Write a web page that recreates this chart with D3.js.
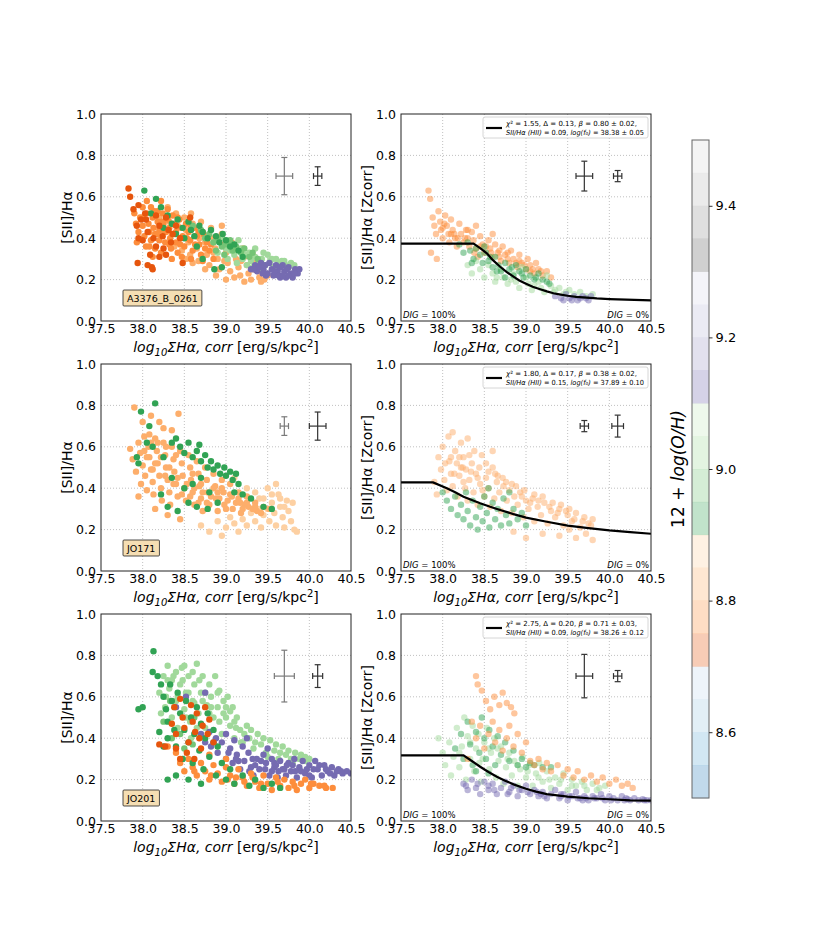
<!DOCTYPE html>
<html>
<head>
<meta charset="utf-8">
<script src="https://cdn.jsdelivr.net/npm/d3@7"></script>
<style>
  body { margin: 0; background: #fff; }
  text { font-family: "DejaVu Sans", sans-serif; }
</style>
</head>
<body>
<div id="chart"></div>
<script>
// ---- axes / colorbar ----
const xTicks = [37.5, 38.0, 38.5, 39.0, 39.5, 40.0, 40.5];
const yTicks = [0.0, 0.2, 0.4, 0.6, 0.8, 1.0];
const cbTicks = [8.6, 8.8, 9.0, 9.2, 9.4];
const cbEdges = [8.5, 9.5];
// tab20c, one colour per 0.05 dex of 12+log(O/H)
const cbColors = [
  "#3182bd", "#6baed6", "#9ecae1", "#c6dbef",
  "#e6550d", "#fd8d3c", "#fdae6b", "#fdd0a2",
  "#31a354", "#74c476", "#a1d99b", "#c7e9c0",
  "#756bb1", "#9e9ac8", "#bcbddc", "#dadaeb",
  "#636363", "#969696", "#bdbdbd", "#d9d9d9",
];
const galaxyNames = ["A3376_B_0261", "JO171", "JO201"];

// ---- spaxels: "logSigmaHa,SII/Ha ..." ----
// A3376_B_0261, observed
const a3376_lightOrange = `38.20,0.50 38.25,0.44 38.30,0.55 38.32,0.48 38.35,0.42 38.38,0.36 38.40,0.52 38.42,0.46 38.45,0.40 38.47,0.34 38.50,0.50 38.52,0.44 38.55,0.38 38.57,0.32 38.58,0.52 38.60,0.47 38.63,0.41 38.65,0.35 38.67,0.29 38.70,0.48 38.72,0.43 38.75,0.38 38.77,0.32 38.80,0.27 38.82,0.45 38.85,0.40 38.87,0.35 38.90,0.30 38.92,0.25 38.95,0.42 38.97,0.37 39.00,0.33 39.02,0.28 39.05,0.24 39.07,0.38 39.10,0.34 39.12,0.30 39.15,0.26 39.17,0.22 39.20,0.35 39.22,0.31 39.25,0.27 39.27,0.23 39.30,0.20 39.32,0.32 39.35,0.28 39.38,0.24 39.40,0.21 39.42,0.19 39.46,0.20 39.50,0.22 38.95,0.46 38.60,0.28 38.75,0.25 39.10,0.21 38.85,0.33 38.98,0.29 39.18,0.29 39.33,0.25 38.68,0.40 38.52,0.30 38.88,0.22 39.00,0.20 39.22,0.19`;
const a3376_orange = `37.90,0.52 37.92,0.47 37.95,0.43 37.97,0.50 38.00,0.55 38.00,0.46 38.02,0.41 38.04,0.36 38.05,0.52 38.07,0.47 38.08,0.43 38.10,0.39 38.10,0.55 38.12,0.50 38.13,0.45 38.15,0.42 38.15,0.35 38.18,0.53 38.18,0.48 38.20,0.44 38.20,0.39 38.22,0.33 38.24,0.52 38.25,0.47 38.26,0.43 38.27,0.38 38.30,0.54 38.30,0.49 38.32,0.45 38.33,0.40 38.34,0.35 38.36,0.51 38.38,0.47 38.40,0.43 38.40,0.38 38.42,0.33 38.44,0.49 38.46,0.45 38.48,0.41 38.50,0.36 38.52,0.47 38.55,0.43 38.57,0.39 38.60,0.34 38.62,0.45 38.65,0.41 38.68,0.37 38.70,0.32 38.73,0.42 38.77,0.38 38.80,0.34 38.85,0.30 38.58,0.30 38.47,0.31 38.35,0.30 38.12,0.31 38.05,0.58 38.22,0.58 37.93,0.38 38.00,0.50 38.08,0.36 38.14,0.53 38.18,0.42 38.23,0.48 38.28,0.43 38.32,0.37 38.38,0.42 38.42,0.50 38.45,0.37 38.53,0.40 38.58,0.46 38.63,0.37 38.67,0.43 38.75,0.35 38.82,0.37 38.72,0.29`;
const a3376_darkOrange = `37.83,0.64 37.85,0.60 37.89,0.54 37.95,0.56 37.93,0.46 37.98,0.49 37.95,0.40 37.94,0.28 38.06,0.27 38.11,0.26 38.12,0.25 38.09,0.32 38.16,0.51 38.20,0.46 38.28,0.50 38.28,0.32 38.36,0.42 38.48,0.28 38.57,0.50 38.00,0.39 38.06,0.43 38.16,0.36 38.24,0.41 38.34,0.38 38.04,0.49 38.40,0.46 38.20,0.31 38.03,0.52 38.13,0.40 38.31,0.44 38.45,0.40 38.25,0.35`;
const a3376_lightGreen = `38.85,0.38 38.90,0.33 38.95,0.40 39.00,0.35 39.02,0.30 39.08,0.37 39.10,0.32 39.13,0.28 39.18,0.35 39.20,0.30 39.25,0.27 39.28,0.33 39.30,0.29 39.35,0.31 39.38,0.27 39.40,0.25 39.43,0.30 39.47,0.27 39.50,0.32 39.53,0.29 39.57,0.26 39.60,0.30 39.63,0.28 39.67,0.29 39.72,0.27 39.78,0.28 39.82,0.27 39.45,0.33 39.15,0.39 39.35,0.35 39.05,0.34 39.23,0.32 39.42,0.28 39.55,0.30 39.70,0.29 39.75,0.26 39.60,0.25 39.32,0.26`;
const a3376_midGreen = `38.60,0.46 38.70,0.44 38.75,0.40 38.80,0.42 38.85,0.38 38.90,0.40 38.95,0.36 39.00,0.37 39.05,0.39 39.08,0.34 39.12,0.36 39.18,0.33 39.22,0.35 39.28,0.31 39.32,0.33 39.38,0.30 38.88,0.34 38.98,0.32`;
const a3376_green = `38.02,0.63 38.16,0.59 38.10,0.52 38.22,0.55 38.30,0.51 38.35,0.47 38.42,0.49 38.48,0.45 38.55,0.48 38.58,0.44 38.62,0.41 38.68,0.46 38.72,0.43 38.78,0.40 38.82,0.44 38.88,0.41 38.92,0.38 38.96,0.42 39.00,0.39 39.05,0.36 39.10,0.37 39.15,0.34 38.86,0.25 38.95,0.26 38.72,0.30 38.50,0.40 38.40,0.42 38.65,0.36 39.20,0.31 38.25,0.45`;
const a3376_purple = `39.30,0.25 39.35,0.27 39.37,0.24 39.42,0.28 39.45,0.25 39.48,0.22 39.52,0.28 39.55,0.25 39.57,0.22 39.60,0.27 39.62,0.24 39.65,0.21 39.68,0.27 39.70,0.24 39.72,0.21 39.75,0.26 39.78,0.23 39.80,0.21 39.83,0.25 39.86,0.23 39.88,0.25 39.50,0.23 39.65,0.26 39.75,0.22 39.40,0.26 39.33,0.25 39.44,0.23 39.58,0.24 39.63,0.22 39.73,0.25 39.82,0.23 39.68,0.22 39.47,0.27`;
// A3376_B_0261, metallicity corrected
const a3376z_orange = `37.83,0.63 37.85,0.59 37.88,0.50 37.90,0.46 37.92,0.42 37.95,0.53 37.97,0.48 37.98,0.44 38.00,0.40 38.03,0.51 38.05,0.46 38.07,0.42 38.08,0.38 38.10,0.49 38.12,0.44 38.15,0.40 38.17,0.36 38.20,0.47 38.22,0.42 38.25,0.38 38.28,0.44 38.30,0.40 38.32,0.36 38.35,0.43 38.37,0.39 38.40,0.35 38.42,0.31 38.45,0.41 38.48,0.37 38.50,0.33 38.55,0.39 38.57,0.35 38.60,0.31 38.63,0.37 38.66,0.33 38.70,0.29 38.72,0.36 38.75,0.32 38.80,0.28 38.82,0.34 38.85,0.30 38.90,0.26 38.92,0.32 38.95,0.28 39.00,0.25 39.02,0.30 39.05,0.27 39.10,0.23 39.12,0.28 39.15,0.25 39.20,0.22 39.25,0.24 39.30,0.21 37.86,0.33 37.93,0.30 38.40,0.46 38.60,0.42 38.02,0.47 38.14,0.42 38.27,0.40 38.38,0.33 38.52,0.36 38.68,0.34 38.78,0.30 38.88,0.28 38.98,0.27 39.08,0.25 38.00,0.45 38.10,0.42 38.18,0.40 38.30,0.44 38.45,0.36 38.58,0.33 38.68,0.31 38.78,0.33 38.92,0.29 39.05,0.24 39.18,0.24`;
const a3376z_green = `38.20,0.37 38.25,0.33 38.30,0.38 38.33,0.34 38.37,0.30 38.40,0.35 38.45,0.32 38.48,0.28 38.52,0.33 38.55,0.29 38.60,0.26 38.63,0.31 38.67,0.27 38.70,0.24 38.75,0.28 38.80,0.25 38.85,0.22 38.88,0.27 38.92,0.24 38.97,0.21 39.00,0.25 39.05,0.22 39.10,0.20 39.15,0.23 39.20,0.20 39.28,0.18 38.50,0.36 38.75,0.21 38.35,0.28 38.57,0.31 38.65,0.24 38.83,0.26 38.95,0.23 39.12,0.21 39.25,0.19`;
const a3376z_lightGreen = `38.30,0.27 38.35,0.23 38.40,0.29 38.45,0.25 38.50,0.21 38.55,0.27 38.60,0.23 38.63,0.19 38.70,0.25 38.73,0.21 38.78,0.18 38.85,0.23 38.88,0.19 38.92,0.16 39.00,0.21 39.03,0.18 39.07,0.15 39.15,0.19 39.18,0.16 39.22,0.14 39.30,0.17 39.33,0.14 39.40,0.16 39.45,0.13 39.52,0.15 39.58,0.13 39.65,0.14 39.72,0.12 39.80,0.13 38.95,0.26 39.25,0.22 38.65,0.21 38.82,0.20 39.10,0.17 39.35,0.15 39.48,0.14`;
const a3376z_purple = `39.35,0.12 39.42,0.11 39.48,0.13 39.52,0.11 39.58,0.12 39.62,0.10 39.68,0.12 39.72,0.11 39.78,0.12 39.45,0.10 39.55,0.10 39.65,0.11 39.75,0.10`;
// JO171, observed
const jo171_lightOrange = `37.85,0.59 37.88,0.54 37.90,0.79 37.92,0.48 37.95,0.62 37.97,0.57 37.98,0.42 38.00,0.51 38.02,0.65 38.03,0.46 38.05,0.39 38.07,0.60 38.08,0.55 38.10,0.75 38.10,0.49 38.12,0.43 38.13,0.37 38.15,0.64 38.17,0.58 38.18,0.52 38.20,0.46 38.22,0.40 38.23,0.34 38.25,0.69 38.25,0.62 38.27,0.56 38.28,0.50 38.30,0.44 38.32,0.38 38.33,0.32 38.35,0.60 38.37,0.54 38.38,0.48 38.40,0.42 38.42,0.36 38.43,0.76 38.45,0.58 38.47,0.52 38.48,0.46 38.50,0.40 38.52,0.34 38.55,0.56 38.57,0.50 38.58,0.44 38.60,0.38 38.62,0.32 38.65,0.53 38.67,0.47 38.68,0.41 38.70,0.35 38.72,0.29 38.75,0.50 38.77,0.44 38.78,0.38 38.80,0.32 38.85,0.47 38.87,0.41 38.88,0.35 38.90,0.29 38.95,0.44 38.97,0.38 38.98,0.32 39.05,0.42 39.07,0.36 39.08,0.30 39.15,0.38 39.17,0.33 39.18,0.28 39.25,0.36 39.27,0.31 39.35,0.33 39.37,0.29 39.45,0.31 39.52,0.30 38.00,0.72 38.20,0.72 38.35,0.68 37.95,0.36 38.15,0.30 38.30,0.27 38.45,0.25 38.05,0.55 38.12,0.49 38.22,0.55 38.32,0.50 38.42,0.45 38.53,0.42 38.62,0.40 38.72,0.38 38.82,0.36 38.92,0.35 39.02,0.34 39.12,0.33 39.22,0.32 39.32,0.30 39.42,0.28 38.08,0.66 38.18,0.62 38.28,0.60 38.40,0.56 38.02,0.58 38.10,0.62 38.15,0.52 38.27,0.46 38.37,0.42 38.47,0.37 38.57,0.36 38.67,0.33 38.77,0.33 38.85,0.40 38.95,0.40 39.05,0.37 39.15,0.35 39.25,0.33 39.35,0.31 38.60,0.47 38.70,0.42 38.90,0.38 39.00,0.30 39.20,0.30`;
const jo171_paleOrange = `38.70,0.22 38.80,0.19 38.90,0.24 38.95,0.17 39.00,0.21 39.05,0.26 39.10,0.23 39.15,0.19 39.20,0.25 39.25,0.22 39.30,0.28 39.35,0.24 39.40,0.35 39.42,0.21 39.45,0.27 39.50,0.40 39.52,0.24 39.55,0.33 39.58,0.28 39.60,0.22 39.63,0.37 39.65,0.31 39.68,0.26 39.70,0.21 39.73,0.34 39.75,0.29 39.78,0.24 39.80,0.33 39.82,0.20 39.85,0.19 39.25,0.40 39.35,0.38 39.60,0.42 39.10,0.45 39.45,0.35 39.55,0.37 39.65,0.35 39.70,0.31 39.50,0.30 39.40,0.30`;
const jo171_green = `38.15,0.81 38.08,0.70 37.98,0.77 37.93,0.55 37.95,0.52 38.05,0.62 38.12,0.60 38.25,0.55 38.35,0.62 38.40,0.64 38.45,0.60 38.50,0.57 38.55,0.62 38.60,0.55 38.65,0.58 38.68,0.61 38.70,0.53 38.75,0.56 38.78,0.50 38.82,0.53 38.85,0.49 38.90,0.51 38.93,0.47 38.98,0.50 39.00,0.46 39.05,0.48 39.08,0.44 39.12,0.47 39.15,0.42 39.10,0.38 39.20,0.37 39.30,0.35 39.45,0.31 39.55,0.30 38.30,0.31 38.42,0.29 38.55,0.33 38.65,0.31 38.78,0.30 38.90,0.33 38.22,0.37 38.35,0.45 38.50,0.40 38.60,0.42 38.70,0.45 38.80,0.38`;
// JO171, metallicity corrected
const jo171z_orange = `37.90,0.43 37.93,0.37 37.95,0.55 37.98,0.49 38.00,0.60 38.02,0.44 38.05,0.39 38.07,0.65 38.08,0.53 38.10,0.47 38.12,0.41 38.15,0.58 38.17,0.52 38.18,0.36 38.20,0.46 38.22,0.62 38.25,0.55 38.27,0.40 38.28,0.49 38.30,0.34 38.32,0.44 38.35,0.52 38.37,0.38 38.40,0.47 38.42,0.32 38.45,0.42 38.47,0.56 38.50,0.36 38.52,0.45 38.55,0.40 38.57,0.31 38.60,0.50 38.62,0.35 38.65,0.43 38.68,0.38 38.70,0.29 38.73,0.41 38.77,0.34 38.80,0.39 38.83,0.28 38.86,0.36 38.90,0.32 38.93,0.38 38.97,0.26 39.00,0.34 39.03,0.30 39.08,0.35 39.10,0.24 39.14,0.31 39.18,0.27 39.22,0.33 39.26,0.23 39.30,0.29 39.35,0.26 39.40,0.30 39.45,0.22 39.50,0.27 39.55,0.24 39.60,0.28 39.65,0.21 39.70,0.26 39.75,0.23 39.80,0.25 39.00,0.16 39.20,0.18 39.40,0.17 39.60,0.16 39.80,0.15 38.85,0.19 38.30,0.64 38.60,0.58 38.12,0.67 38.03,0.52 38.14,0.47 38.24,0.50 38.34,0.48 38.44,0.50 38.55,0.48 38.66,0.46 38.76,0.43 38.88,0.41 38.98,0.39 39.10,0.37 39.20,0.36 39.32,0.33 39.42,0.32 39.52,0.30 38.20,0.55 38.38,0.58 38.25,0.43 38.48,0.39 38.10,0.55 38.22,0.50 38.32,0.56 38.42,0.45 38.52,0.52 38.63,0.47 38.72,0.45 38.83,0.42 38.95,0.36 39.05,0.33 39.15,0.34 39.28,0.31 39.38,0.28 39.48,0.29 39.58,0.25 39.68,0.24 39.78,0.22 39.52,0.20 39.72,0.18`;
const jo171z_green = `38.00,0.38 38.05,0.34 38.10,0.30 38.15,0.36 38.18,0.27 38.22,0.32 38.25,0.25 38.28,0.38 38.30,0.29 38.33,0.22 38.36,0.34 38.40,0.26 38.42,0.20 38.45,0.31 38.48,0.24 38.50,0.36 38.53,0.28 38.56,0.21 38.60,0.33 38.63,0.25 38.66,0.30 38.70,0.22 38.73,0.35 38.76,0.27 38.80,0.23 38.85,0.30 38.90,0.25 38.95,0.28 39.00,0.22 38.55,0.40 38.80,0.38`;
// JO201, observed
const jo201_lightGreen = `38.20,0.62 38.25,0.70 38.27,0.55 38.30,0.75 38.32,0.64 38.35,0.50 38.37,0.70 38.40,0.58 38.42,0.45 38.45,0.66 38.47,0.74 38.50,0.54 38.52,0.62 38.55,0.70 38.57,0.48 38.60,0.58 38.62,0.66 38.65,0.76 38.67,0.52 38.70,0.62 38.72,0.70 38.75,0.45 38.77,0.56 38.80,0.66 38.82,0.60 38.85,0.50 38.87,0.70 38.90,0.55 38.92,0.63 38.95,0.42 38.97,0.58 39.00,0.50 39.02,0.60 39.05,0.46 39.08,0.55 39.10,0.40 39.13,0.50 39.17,0.44 39.20,0.38 39.25,0.46 39.28,0.40 39.33,0.35 39.38,0.42 39.42,0.37 39.48,0.33 39.53,0.39 39.58,0.34 39.63,0.30 39.68,0.36 39.72,0.32 39.78,0.30 39.83,0.33 39.88,0.30 39.95,0.29 40.00,0.30 38.58,0.40 38.85,0.38 38.35,0.68 38.42,0.60 38.48,0.68 38.55,0.62 38.62,0.57 38.68,0.68 38.75,0.62 38.82,0.55 38.90,0.62 38.97,0.52 39.05,0.53 39.12,0.45 39.22,0.42 39.30,0.44 39.45,0.40 39.60,0.37 39.75,0.34 39.90,0.32 38.28,0.60 38.38,0.55 38.52,0.50 38.65,0.45 38.22,0.52 38.30,0.68 38.40,0.72 38.50,0.75 38.60,0.72 38.72,0.58 38.80,0.52 38.92,0.48 39.00,0.55 39.10,0.48 39.18,0.38 39.35,0.38 39.50,0.31 39.65,0.33 39.80,0.28 39.95,0.31`;
const jo201_midGreen = `38.25,0.48 38.35,0.40 38.50,0.35 38.60,0.37 38.45,0.42 38.33,0.58 38.62,0.50`;
const jo201_purple = `38.40,0.55 38.52,0.60 38.75,0.62 38.70,0.42 38.75,0.38 38.80,0.43 38.82,0.36 38.88,0.40 38.90,0.33 38.95,0.38 39.00,0.30 39.00,0.42 39.05,0.35 39.08,0.28 39.10,0.39 39.13,0.32 39.17,0.25 39.20,0.36 39.22,0.29 39.27,0.33 39.30,0.26 39.33,0.22 39.37,0.30 39.40,0.25 39.45,0.32 39.48,0.28 39.52,0.22 39.55,0.30 39.58,0.26 39.62,0.21 39.65,0.29 39.68,0.25 39.72,0.22 39.75,0.28 39.78,0.24 39.82,0.30 39.85,0.21 39.88,0.26 39.92,0.29 39.95,0.23 40.00,0.27 40.03,0.21 40.07,0.29 40.10,0.25 40.15,0.22 40.18,0.27 40.22,0.24 40.27,0.26 40.30,0.22 40.35,0.25 40.40,0.23 40.45,0.24 40.50,0.23 39.25,0.40 39.50,0.35 39.35,0.27 39.42,0.29 39.60,0.27 39.70,0.25 39.80,0.27 39.90,0.24 40.05,0.25 40.20,0.25 39.55,0.24 39.15,0.29 38.85,0.38 39.03,0.33 39.12,0.30 39.32,0.30 39.47,0.25 39.63,0.24 39.73,0.27 39.83,0.24 39.97,0.25 40.12,0.27 40.25,0.23 40.38,0.24 39.28,0.24 39.58,0.28 40.00,0.22 40.33,0.24`;
const jo201_orange = `38.30,0.36 38.40,0.33 38.45,0.28 38.50,0.24 38.55,0.30 38.60,0.26 38.65,0.22 38.70,0.28 38.75,0.24 38.80,0.20 38.85,0.27 38.90,0.23 38.95,0.19 39.00,0.26 39.05,0.22 39.10,0.18 39.15,0.25 39.20,0.21 39.25,0.17 39.30,0.23 39.35,0.19 39.40,0.16 39.45,0.22 39.50,0.18 39.55,0.15 39.60,0.21 39.65,0.17 39.70,0.20 39.75,0.16 39.80,0.19 39.85,0.15 39.90,0.18 39.95,0.20 40.00,0.16 40.05,0.18 40.12,0.17 40.20,0.16 40.28,0.16 39.00,0.30 38.80,0.32 38.62,0.24 38.82,0.22 39.02,0.20 39.22,0.19 39.42,0.18 39.62,0.19 39.82,0.17 40.02,0.18 40.18,0.17 39.12,0.21 39.32,0.21`;
const jo201_green = `37.95,0.54 38.00,0.55 38.13,0.82 38.12,0.72 38.18,0.70 38.22,0.66 38.25,0.60 38.28,0.54 38.30,0.48 38.30,0.40 38.33,0.66 38.35,0.58 38.38,0.44 38.40,0.36 38.42,0.62 38.45,0.52 38.48,0.30 38.50,0.44 38.52,0.58 38.55,0.38 38.58,0.50 38.60,0.28 38.62,0.42 38.65,0.55 38.68,0.34 38.70,0.47 38.73,0.25 38.75,0.40 38.78,0.52 38.80,0.31 38.85,0.44 38.88,0.22 38.90,0.36 38.95,0.28 39.00,0.20 39.05,0.25 39.10,0.18 39.20,0.22 39.28,0.17 39.35,0.20 39.45,0.16 39.55,0.18 39.65,0.16 38.30,0.20 38.40,0.22 38.55,0.20 38.70,0.18 38.25,0.36 38.20,0.43`;
const jo201_darkOrange = `38.20,0.37 38.27,0.36 38.35,0.47 38.38,0.55 38.40,0.42 38.45,0.59 38.48,0.50 38.50,0.45 38.53,0.33 38.55,0.38 38.58,0.56 38.60,0.48 38.63,0.43 38.65,0.52 38.68,0.40 38.70,0.35 38.72,0.46 38.75,0.55 38.78,0.42 38.80,0.49 38.85,0.38 38.45,0.30 38.62,0.30 38.40,0.35`;
// JO201, metallicity corrected
const jo201z_lightGreen = `37.95,0.40 38.00,0.33 38.03,0.27 38.08,0.38 38.10,0.22 38.13,0.31 38.17,0.45 38.20,0.26 38.23,0.36 38.26,0.50 38.28,0.20 38.30,0.41 38.33,0.30 38.36,0.46 38.38,0.24 38.40,0.35 38.43,0.42 38.46,0.19 38.48,0.30 38.50,0.38 38.53,0.45 38.56,0.25 38.58,0.33 38.62,0.40 38.64,0.21 38.67,0.29 38.70,0.36 38.73,0.18 38.76,0.26 38.80,0.33 38.83,0.22 38.86,0.29 38.90,0.17 38.93,0.25 38.96,0.31 39.00,0.21 39.04,0.27 39.08,0.17 39.12,0.23 39.16,0.28 39.20,0.19 39.25,0.24 39.30,0.16 39.35,0.21 39.40,0.18 39.45,0.23 39.50,0.15 39.55,0.20 39.60,0.17 39.67,0.19 39.73,0.15 39.80,0.18 39.88,0.16 39.95,0.17 38.20,0.33 38.33,0.38 38.44,0.28 38.55,0.35 38.66,0.35 38.78,0.30 38.90,0.27 39.02,0.24 39.15,0.21 39.28,0.20 39.42,0.20 39.55,0.17 39.70,0.17 39.85,0.15`;
const jo201z_purple = `38.25,0.18 38.30,0.15 38.35,0.20 38.40,0.16 38.45,0.13 38.50,0.19 38.55,0.15 38.60,0.18 38.65,0.13 38.70,0.16 38.75,0.19 38.80,0.14 38.85,0.17 38.90,0.12 38.95,0.15 39.00,0.17 39.05,0.13 39.10,0.15 39.15,0.12 39.20,0.14 39.25,0.11 39.30,0.13 39.35,0.15 39.40,0.11 39.45,0.13 39.50,0.10 39.55,0.12 39.60,0.14 39.65,0.11 39.70,0.12 39.75,0.10 39.80,0.12 39.85,0.11 39.90,0.13 39.95,0.10 40.00,0.12 40.05,0.11 40.10,0.10 40.15,0.12 40.20,0.11 40.25,0.10 40.30,0.11 40.35,0.10 40.40,0.105 40.45,0.10 40.50,0.10 38.92,0.15 39.18,0.13 39.42,0.12 39.68,0.10 39.92,0.11 40.18,0.10 38.42,0.18 38.62,0.15 38.82,0.16 39.02,0.14 39.22,0.12 39.42,0.13 39.62,0.11 39.82,0.11 40.02,0.10 40.22,0.105 40.42,0.10 38.28,0.17 38.55,0.17 38.78,0.13 39.13,0.14 39.52,0.12 39.72,0.11`;
const jo201z_green = `38.15,0.35 38.22,0.42 38.25,0.30 38.30,0.48 38.33,0.37 38.36,0.27 38.40,0.43 38.44,0.33 38.47,0.50 38.50,0.40 38.52,0.30 38.56,0.44 38.60,0.36 38.63,0.27 38.66,0.41 38.70,0.32 38.75,0.38 38.80,0.29 38.85,0.34 38.90,0.27 38.95,0.30 39.00,0.26 39.05,0.28 39.10,0.27 39.20,0.26 39.30,0.26 38.55,0.23 38.40,0.24`;
const jo201z_orange = `38.40,0.70 38.42,0.66 38.47,0.63 38.52,0.58 38.57,0.54 38.62,0.60 38.68,0.56 38.72,0.62 38.77,0.57 38.82,0.55 38.86,0.52 38.35,0.48 38.40,0.40 38.45,0.46 38.50,0.35 38.55,0.42 38.60,0.48 38.63,0.38 38.68,0.44 38.72,0.34 38.77,0.40 38.80,0.46 38.85,0.36 38.90,0.42 38.95,0.33 39.00,0.38 39.05,0.29 39.10,0.27 39.15,0.30 39.20,0.25 39.25,0.28 39.30,0.24 39.38,0.27 39.45,0.22 39.50,0.25 39.57,0.21 39.62,0.24 39.70,0.20 39.78,0.22 39.85,0.19 39.92,0.21 40.00,0.18 40.08,0.20 40.15,0.17 40.22,0.18 40.28,0.16 38.30,0.30`;

// ---- typical errors: [x, y, xerr, yerr] ----
const errA3376 = [[39.7, 0.70, 0.10, 0.09], [40.1, 0.70, 0.05, 0.045]];
const errA3376z = [[39.7, 0.70, 0.10, 0.072], [40.1, 0.70, 0.05, 0.027]];
const errJO171 = [[39.7, 0.70, 0.05, 0.045], [40.1, 0.70, 0.10, 0.068]];
const errJO171z = [[39.7, 0.70, 0.05, 0.027], [40.1, 0.70, 0.07, 0.053]];
const errJO201 = [[39.7, 0.70, 0.12, 0.125], [40.1, 0.70, 0.06, 0.055]];
const errJO201z = [[39.7, 0.70, 0.10, 0.105], [40.1, 0.70, 0.05, 0.027]];

// ---- DIG model fits ----
const fitA3376 = [[37.5, 0.374], [38.37, 0.374], [38.45, 0.352], [38.53, 0.327], [38.6, 0.295], [38.69, 0.262], [38.77, 0.236], [38.85, 0.214], [38.92, 0.196], [39.0, 0.18], [39.08, 0.165], [39.17, 0.153], [39.25, 0.143], [39.33, 0.134], [39.4, 0.129], [39.5, 0.122], [39.6, 0.117], [39.73, 0.113], [39.85, 0.109], [40.0, 0.106], [40.2, 0.103], [40.5, 0.1]];
const fitJO171 = [[37.5, 0.428], [37.885, 0.428], [38.05, 0.40], [38.15, 0.38], [38.25, 0.359], [38.35, 0.343], [38.45, 0.327], [38.57, 0.31], [38.69, 0.295], [38.85, 0.275], [39.0, 0.258], [39.25, 0.238], [39.5, 0.219], [39.75, 0.207], [40.0, 0.196], [40.25, 0.188], [40.5, 0.18]];
const fitJO201 = [[37.5, 0.317], [38.25, 0.317], [38.35, 0.29], [38.45, 0.262], [38.55, 0.237], [38.65, 0.214], [38.75, 0.195], [38.85, 0.177], [39.0, 0.156], [39.12, 0.142], [39.25, 0.13], [39.5, 0.118], [39.75, 0.11], [40.0, 0.105], [40.25, 0.1], [40.5, 0.098]];
const fitChi2 = ["1.55", "1.80", "2.75"];
const fitDelta = ["0.13", "0.17", "0.20"];
const fitBeta = ["0.80 ± 0.02", "0.38 ± 0.02", "0.71 ± 0.03"];
const fitHII = ["0.09", "0.15", "0.09"];
const fitLogF0 = ["38.38 ± 0.05", "37.89 ± 0.10", "38.26 ± 0.12"];

// ---- layout ----
const width = 814, height = 939;
const pw = 250, ph = 207;
const colX = [101, 401];
const rowY = [114, 364, 614];
const parsePts = (s) => s.trim().split(/\s+/).map((p) => p.split(",").map(Number));

const panels = [
  { col: 0, row: 0, ylabel: "[SII]/Hα", err: errA3376, alpha: 1,
    layers: [[a3376_lightOrange, "#fdae6b"], [a3376_orange, "#fd8d3c"], [a3376_lightGreen, "#a1d99b"], [a3376_midGreen, "#74c476"], [a3376_purple, "#756bb1"], [a3376_green, "#31a354"], [a3376_darkOrange, "#e6550d"]] },
  { col: 1, row: 0, ylabel: "[SII]/Hα [Zcorr]", err: errA3376z, alpha: 0.5, fit: fitA3376, fi: 0,
    layers: [[a3376z_orange, "#fd8d3c"], [a3376z_lightGreen, "#a1d99b"], [a3376z_green, "#31a354"], [a3376z_purple, "#756bb1"]] },
  { col: 0, row: 1, ylabel: "[SII]/Hα", err: errJO171, alpha: 1,
    layers: [[jo171_paleOrange, "#fdd0a2"], [jo171_lightOrange, "#fdae6b"], [jo171_green, "#31a354"]] },
  { col: 1, row: 1, ylabel: "[SII]/Hα [Zcorr]", err: errJO171z, alpha: 0.5, fit: fitJO171, fi: 1,
    layers: [[jo171z_orange, "#fdae6b"], [jo171z_green, "#31a354"]] },
  { col: 0, row: 2, ylabel: "[SII]/Hα", err: errJO201, alpha: 1,
    layers: [[jo201_lightGreen, "#a1d99b"], [jo201_midGreen, "#74c476"], [jo201_purple, "#756bb1"], [jo201_orange, "#fd8d3c"], [jo201_green, "#31a354"], [jo201_darkOrange, "#e6550d"]] },
  { col: 1, row: 2, ylabel: "[SII]/Hα [Zcorr]", err: errJO201z, alpha: 0.5, fit: fitJO201, fi: 2,
    layers: [[jo201z_lightGreen, "#a1d99b"], [jo201z_green, "#31a354"], [jo201z_orange, "#fd8d3c"], [jo201z_purple, "#756bb1"]] },
];

const svg = d3.select("#chart").append("svg")
  .attr("width", width).attr("height", height)
  .style("background", "#fff");

const xScale = d3.scaleLinear().domain([37.5, 40.5]).range([0, pw]);
const yScale = d3.scaleLinear().domain([0, 1]).range([ph, 0]);

const addParts = (t, parts) => {
  parts.forEach(([txt, it]) => t.append("tspan").attr("font-style", it ? "italic" : "normal").text(txt));
};

panels.forEach((p) => {
  const g = svg.append("g").attr("transform", `translate(${colX[p.col]},${rowY[p.row]})`);

  // grid
  g.append("g").selectAll("line").data(xTicks.slice(1, -1)).join("line")
    .attr("x1", (d) => xScale(d)).attr("x2", (d) => xScale(d))
    .attr("y1", 0).attr("y2", ph)
    .attr("stroke", "#b0b0b0").attr("stroke-width", 0.8).attr("stroke-dasharray", "1,2");
  g.append("g").selectAll("line").data(yTicks.slice(1, -1)).join("line")
    .attr("y1", (d) => yScale(d)).attr("y2", (d) => yScale(d))
    .attr("x1", 0).attr("x2", pw)
    .attr("stroke", "#b0b0b0").attr("stroke-width", 0.8).attr("stroke-dasharray", "1,2");

  // spaxels
  const clip = `clip${p.col}${p.row}`;
  g.append("clipPath").attr("id", clip).append("rect").attr("width", pw).attr("height", ph);
  const dots = g.append("g").attr("clip-path", `url(#${clip})`);
  p.layers.forEach(([str, color]) => {
    dots.append("g").selectAll("circle").data(parsePts(str)).join("circle")
      .attr("cx", (d) => xScale(d[0]))
      .attr("cy", (d) => yScale(d[1]))
      .attr("r", 3.2)
      .attr("fill", color)
      .attr("fill-opacity", p.alpha);
  });

  // fit curve
  if (p.fit) {
    dots.append("path").datum(p.fit)
      .attr("d", d3.line().x((d) => xScale(d[0])).y((d) => yScale(d[1])))
      .attr("fill", "none").attr("stroke", "#000").attr("stroke-width", 2.2);
  }

  // error bars
  p.err.forEach(([ex, ey, dx, dy], i) => {
    const c = p.col === 0 && i === 0 ? "#7a7a7a" : "#333";
    const eb = g.append("g").attr("stroke", c).attr("stroke-width", 1.2);
    eb.append("line").attr("x1", xScale(ex - dx)).attr("x2", xScale(ex + dx)).attr("y1", yScale(ey)).attr("y2", yScale(ey));
    eb.append("line").attr("x1", xScale(ex)).attr("x2", xScale(ex)).attr("y1", yScale(ey - dy)).attr("y2", yScale(ey + dy));
    [ex - dx, ex + dx].forEach((v) => eb.append("line").attr("x1", xScale(v)).attr("x2", xScale(v)).attr("y1", yScale(ey) - 3).attr("y2", yScale(ey) + 3));
    [ey - dy, ey + dy].forEach((v) => eb.append("line").attr("y1", yScale(v)).attr("y2", yScale(v)).attr("x1", xScale(ex) - 3).attr("x2", xScale(ex) + 3));
  });

  // frame
  g.append("rect").attr("width", pw).attr("height", ph)
    .attr("fill", "none").attr("stroke", "#222").attr("stroke-width", 1);

  // axes
  const xAxis = g.append("g").attr("transform", `translate(0,${ph})`)
    .call(d3.axisBottom(xScale).tickValues(xTicks).tickFormat(d3.format(".1f")).tickSize(0).tickPadding(3));
  const yAxis = g.append("g")
    .call(d3.axisLeft(yScale).tickValues(yTicks).tickFormat(d3.format(".1f")).tickSize(0).tickPadding(5));
  [xAxis, yAxis].forEach((a) => {
    a.select(".domain").remove();
    a.selectAll("text").attr("font-size", 12.5).attr("fill", "#000").attr("font-family", "DejaVu Sans");
  });

  // axis titles
  const xl = g.append("text").attr("x", pw / 2).attr("y", ph + 31)
    .attr("text-anchor", "middle").attr("font-size", 14);
  xl.append("tspan").attr("font-style", "italic").text("log");
  xl.append("tspan").attr("font-style", "italic").attr("font-size", 10).attr("dy", 4).text("10");
  xl.append("tspan").attr("font-style", "italic").attr("dy", -4).text("ΣHα, corr ");
  xl.append("tspan").text("[erg/s/kpc");
  xl.append("tspan").attr("font-size", 10).attr("dy", -5).text("2");
  xl.append("tspan").attr("dy", 5).text("]");

  g.append("text")
    .attr("transform", `translate(-29,${ph / 2}) rotate(-90)`)
    .attr("text-anchor", "middle").attr("font-size", 14)
    .text(p.ylabel);

  // galaxy label box
  if (p.col === 0) {
    const name = galaxyNames[p.row];
    const lbl = g.append("g").attr("transform", `translate(22,${ph - 31})`);
    const t = lbl.append("text").attr("x", 4).attr("y", 11.5).attr("font-size", 9.5).text(name);
    const w = t.node().getComputedTextLength();
    lbl.insert("rect", "text").attr("width", w + 8).attr("height", 16)
      .attr("fill", "#f5deb3").attr("stroke", "#222").attr("stroke-width", 0.8).attr("rx", 1);
  }

  // legend + DIG notes on fitted panels
  if (p.fit) {
    const k = p.fi;
    const lg = g.append("g").attr("transform", `translate(${pw - 168},3)`);
    lg.append("rect").attr("width", 165).attr("height", 21).attr("rx", 2)
      .attr("fill", "#fff").attr("fill-opacity", 0.85).attr("stroke", "#ccc").attr("stroke-width", 0.8);
    lg.append("line").attr("x1", 3).attr("x2", 19).attr("y1", 11).attr("y2", 11)
      .attr("stroke", "#000").attr("stroke-width", 2.2);
    const l1 = lg.append("text").attr("x", 23).attr("y", 9).attr("font-size", 7);
    addParts(l1, [["χ", true], ["² = " + fitChi2[k] + ", Δ = " + fitDelta[k] + ", ", false], ["β", true], [" = " + fitBeta[k] + ",", false]]);
    const l2 = lg.append("text").attr("x", 23).attr("y", 18).attr("font-size", 7);
    addParts(l2, [["SII/Hα (HII)", true], [" = " + fitHII[k] + ", ", false], ["log(f₀)", true], [" = " + fitLogF0[k], false]]);
    // squeeze the lines into the frame like matplotlib's small legend font
    [l1, l2].forEach((t) => {
      const len = t.node().getComputedTextLength();
      if (len > 138) t.attr("textLength", 138).attr("lengthAdjust", "spacingAndGlyphs");
    });

    const d1 = g.append("text").attr("x", 2).attr("y", ph - 3).attr("font-size", 8.5);
    addParts(d1, [["DIG", true], [" = 100%", false]]);
    const d2 = g.append("text").attr("x", pw - 2).attr("y", ph - 3).attr("font-size", 8.5).attr("text-anchor", "end");
    addParts(d2, [["DIG", true], [" = 0%", false]]);
  }
});

// ---- colorbar ----
const cbX = 692, cbW = 17, cbTop = 140, cbBot = 798;
const cbScale = d3.scaleLinear().domain(cbEdges).range([cbBot, cbTop]);
const step = (cbEdges[1] - cbEdges[0]) / cbColors.length;
const cb = svg.append("g");
cb.selectAll("rect").data(cbColors).join("rect")
  .attr("x", cbX)
  .attr("y", (d, i) => cbScale(cbEdges[0] + (i + 1) * step))
  .attr("width", cbW)
  .attr("height", (d, i) => cbScale(cbEdges[0] + i * step) - cbScale(cbEdges[0] + (i + 1) * step) + 0.3)
  .attr("fill", (d) => d).attr("fill-opacity", 0.3);
cb.append("rect").attr("x", cbX).attr("y", cbTop).attr("width", cbW).attr("height", cbBot - cbTop)
  .attr("fill", "none").attr("stroke", "#666").attr("stroke-width", 1);
const cbAxis = svg.append("g").attr("transform", `translate(${cbX + cbW},0)`)
  .call(d3.axisRight(cbScale).tickValues(cbTicks).tickFormat(d3.format(".1f")).tickSize(3.5).tickPadding(3));
cbAxis.select(".domain").remove();
cbAxis.selectAll("line").attr("stroke", "#333");
cbAxis.selectAll("text").attr("font-size", 13).attr("fill", "#000").attr("font-family", "DejaVu Sans");

const cbl = svg.append("text")
  .attr("transform", `translate(684,${(cbTop + cbBot) / 2}) rotate(-90)`)
  .attr("text-anchor", "middle").attr("font-size", 17);
addParts(cbl, [["12 + ", false], ["log(O/H)", true]]);
</script>
</body>
</html>
